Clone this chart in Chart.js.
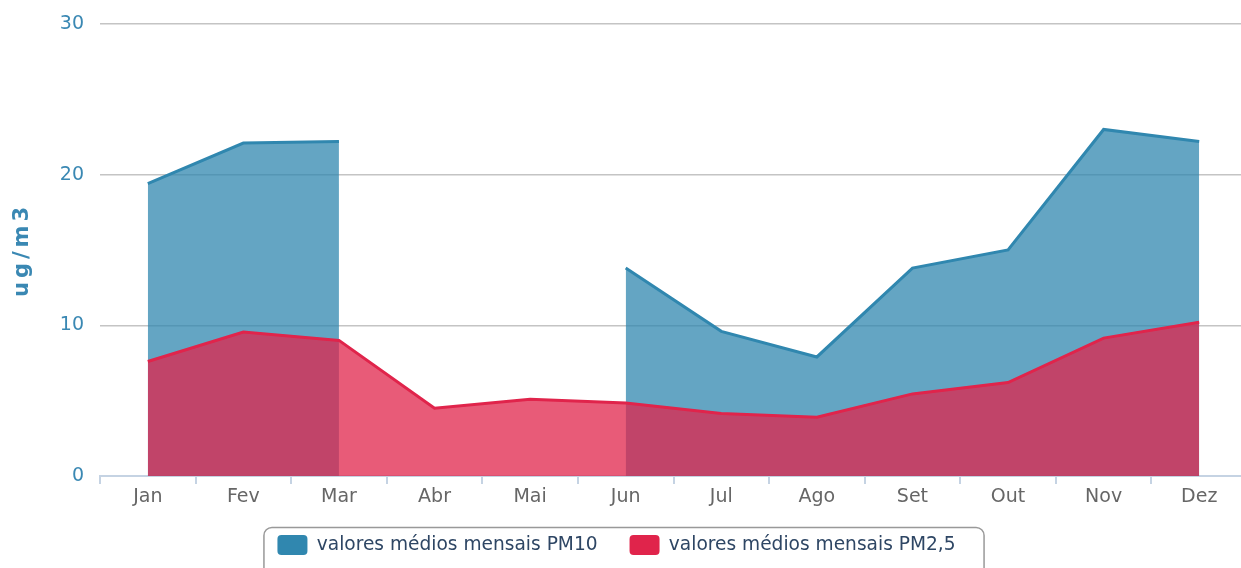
<!DOCTYPE html>
<html>
<head>
<meta charset="utf-8">
<script src="https://cdn.jsdelivr.net/npm/chart.js@4"></script>
<style>
  html, body { margin: 0; padding: 0; overflow: hidden; background: #fff; }
  #wrap { width: 1247px; height: 580px; }
</style>
</head>
<body>
<div id="wrap"><canvas id="grafico"></canvas></div>
<script>
// dados
const meses = ['Jan', 'Fev', 'Mar', 'Abr', 'Mai', 'Jun', 'Jul', 'Ago', 'Set', 'Out', 'Nov', 'Dez'];
const pm10 = [19.4, 22.1, 22.2, null, null, 13.8, 9.6, 7.9, 13.8, 15.0, 23.0, 22.2];
const pm25 = [7.6, 9.55, 9.0, 4.5, 5.1, 4.85, 4.15, 3.9, 5.45, 6.2, 9.15, 10.2];
const yTicks = [0, 10, 20, 30];

// sobe a legenda um pouco e desenha a moldura arredondada
const legendBox = {
  id: 'legendBox',
  afterLayout(chart) {
    const lg = chart.legend;
    if (!lg) return;
    lg.top -= 13;
    lg.bottom -= 13;
    lg.left -= 7;
    lg.right -= 7;
  },
  afterDraw(chart) {
    const boxes = chart.legend && chart.legend.legendHitBoxes;
    if (!boxes || !boxes.length) return;
    const ctx = chart.ctx;
    const first = boxes[0];
    const last = boxes[boxes.length - 1];
    const x0 = first.left - 14;
    const x1 = last.left + last.width + 28;
    const y0 = first.top - 8;
    ctx.save();
    ctx.strokeStyle = '#999999';
    ctx.lineWidth = 1.5;
    ctx.beginPath();
    ctx.roundRect(x0 + 0.5, y0 + 0.5, x1 - x0, 70, 8);
    ctx.stroke();
    ctx.restore();
  }
};

// título do eixo y com letras espaçadas
const spacedTitle = {
  id: 'spacedTitle',
  afterLayout(chart) {
    const scale = chart.scales.y;
    if (scale._spaced) return;
    const orig = scale.drawTitle;
    scale.drawTitle = function () {
      this.ctx.save();
      this.ctx.letterSpacing = '4px';
      orig.apply(this, arguments);
      this.ctx.restore();
    };
    scale._spaced = true;
  }
};

const ctx = document.getElementById('grafico').getContext('2d');
const grafico = new Chart(ctx, {
  type: 'line',
  data: {
    labels: meses,
    datasets: [
      {
        label: 'valores médios mensais PM10',
        data: pm10,
        borderColor: '#3087af',
        backgroundColor: 'rgba(48, 135, 175, 0.75)',
        borderWidth: 3,
        fill: 'origin',
        spanGaps: false,
        pointRadius: 0,
        tension: 0,
        order: 2,
      },
      {
        label: 'valores médios mensais PM2,5',
        data: pm25,
        borderColor: '#e0244b',
        backgroundColor: 'rgba(224, 36, 75, 0.75)',
        borderWidth: 3,
        fill: 'origin',
        pointRadius: 0,
        tension: 0,
        order: 1,
      },
    ],
  },
  options: {
    responsive: true,
    maintainAspectRatio: false,
    animation: false,
    layout: { padding: { top: 24, right: 0, left: 0, bottom: 2 } },
    plugins: {
      tooltip: { enabled: false },
      legend: {
        position: 'bottom',
        labels: {
          boxWidth: 30,
          boxHeight: 20,
          useBorderRadius: true,
          borderRadius: 4,
          padding: 32,
          color: '#2e4664',
          font: { family: 'DejaVu Sans', size: 18.6 },
          generateLabels(chart) {
            const items = Chart.defaults.plugins.legend.labels.generateLabels(chart);
            items.forEach(it => {
              const ds = chart.data.datasets[it.datasetIndex];
              it.fillStyle = ds.borderColor;
              it.strokeStyle = ds.borderColor;
              it.lineWidth = 0;
            });
            return items.sort((a, b) => a.datasetIndex - b.datasetIndex);
          },
        },
      },
    },
    scales: {
      x: {
        offset: true,
        afterFit(scale) { scale.height = 40; },
        grid: {
          offset: true,
          drawOnChartArea: false,
          drawTicks: true,
          tickLength: 8,
          color: '#c5d3e3',
          lineWidth: 2,
        },
        border: { color: '#c5d3e3', width: 2 },
        ticks: {
          color: '#666666',
          padding: 2,
          font: { family: 'DejaVu Sans', size: 19 },
        },
      },
      y: {
        min: 0,
        max: 30,
        afterFit(scale) {
          scale.width = 100;
          scale.paddingTop = 0;
          scale.paddingBottom = 0;
        },
        afterBuildTicks(scale) { scale.ticks = yTicks.map(v => ({ value: v })); },
        grid: { color: '#c4c4c4', lineWidth: 1.5, drawTicks: false },
        border: { display: false },
        ticks: {
          color: '#3a88b3',
          padding: 16,
          font: { family: 'DejaVu Sans', size: 19 },
        },
        title: {
          display: true,
          text: 'ug/m3',
          color: '#3a88b3',
          padding: { top: 10, bottom: 0 },
          font: { family: 'DejaVu Sans', size: 21, weight: 'bold' },
        },
      },
    },
  },
  plugins: [legendBox, spacedTitle],
});
</script>
</body>
</html>
